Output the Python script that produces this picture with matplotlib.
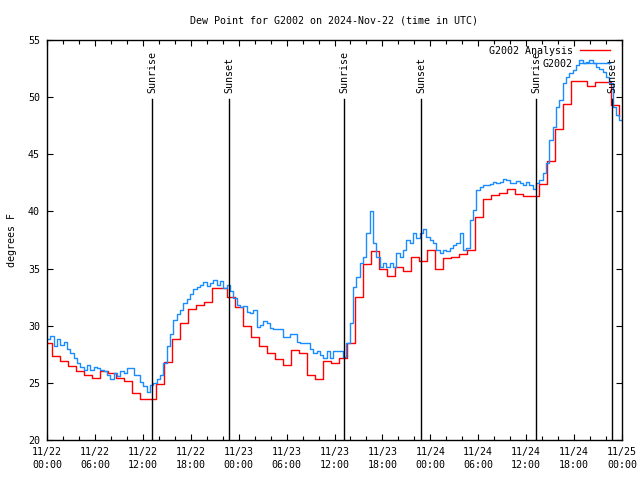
import pandas as pd
import matplotlib
matplotlib.use("Agg")
from matplotlib import pyplot as plt
import matplotlib.dates as mdates

# hourly analysis values (steps change about 36 min past the hour)
analysis_start = "2024-11-21 23:36"
analysis = [28.5, 27.35, 26.95, 26.5, 26.0, 25.7, 25.4, 26.0, 25.85, 25.45,
            25.15, 24.1, 23.6, 23.6, 24.9, 26.8, 28.8, 30.2, 31.5, 31.85,
            32.1, 33.3, 33.3, 32.5, 31.6, 29.95, 29.0, 28.25, 27.6, 27.1,
            26.6, 27.85, 27.65, 25.7, 25.35, 26.9, 26.7, 27.15, 28.45, 32.55,
            35.4, 36.5, 34.95, 34.35, 35.15, 34.75, 36.0, 35.65, 36.6, 34.95,
            35.9, 36.05, 36.25, 36.65, 39.55, 41.05, 41.45, 41.6, 42.0, 41.5,
            41.35, 41.35, 42.4, 44.4, 47.2, 49.4, 51.4, 51.4, 51.0, 51.3,
            51.3, 49.3, 48.35]

# station observations, roughly every 25 minutes
obs_start = "2024-11-22 00:00"
obs = [28.8, 29.1, 28.2, 28.8, 28.3, 28.6, 28.0, 27.6, 27.2, 26.7,
       26.4, 26.1, 26.6, 26.1, 26.4, 26.3, 26.1, 26.0, 25.7, 25.3,
       25.9, 25.6, 26.0, 25.9, 26.3, 26.3, 25.7, 25.7, 25.1, 24.7,
       24.2, 24.8, 25.0, 25.3, 25.7, 26.7, 28.2, 29.3, 30.5, 31.0,
       31.4, 32.0, 32.3, 32.8, 33.2, 33.4, 33.6, 33.8, 33.5, 33.7,
       34.0, 33.6, 33.9, 33.3, 33.6, 33.0, 32.4, 31.8, 31.6, 31.7,
       31.2, 31.1, 31.4, 29.9, 30.1, 30.4, 30.2, 29.8, 29.7, 29.7,
       29.7, 29.05, 29.05, 29.3, 29.3, 28.6, 28.5, 28.5, 28.5,
       28.0, 27.6, 27.75, 27.4, 27.15, 27.75, 27.2, 27.75, 27.75, 27.75,
       27.3, 28.5, 30.2, 33.4, 34.3, 35.45, 36.05, 38.1, 40.0, 37.2,
       36.05, 35.15, 35.45, 35.15, 35.45, 35.15, 36.35, 36.05, 36.65, 37.5,
       37.2, 38.1, 37.65, 38.1, 38.5, 37.8, 37.5, 37.2, 36.65, 36.35,
       36.65, 36.5, 36.8, 37.05, 37.2, 38.1, 36.65, 36.8, 39.25, 40.15,
       41.9, 42.15, 42.3, 42.3, 42.4, 42.6, 42.45, 42.6, 42.8, 42.75,
       42.45, 42.45, 42.7, 42.45, 42.3, 42.6, 42.3, 42.0, 42.5, 42.75,
       43.35, 44.2, 46.25, 47.4, 49.15, 49.75, 51.2, 51.8, 52.1, 52.4,
       52.8, 53.25, 52.95, 53.1, 53.25, 52.95, 52.65, 52.5, 52.2, 51.8,
       51.2, 49.15, 48.45, 48.0, 47.7]

sun_times = ["2024-11-22 13:11", "2024-11-22 22:49", "2024-11-23 13:13",
             "2024-11-23 22:51", "2024-11-24 13:14", "2024-11-24 22:45"]
sun_labels = ["Sunrise", "Sunset", "Sunrise", "Sunset", "Sunrise", "Sunset"]

plt.rcParams['font.family'] = ['DejaVu Sans Mono']
plt.rcParams['font.size'] = 7.2

t_an = pd.date_range(analysis_start, periods=len(analysis), freq="h")
t_obs = pd.date_range(obs_start, periods=len(obs), freq="25min")

fig = plt.figure(figsize=(6.4, 4.8), dpi=100)
ax = fig.add_axes([47 / 640, 40 / 480, 575 / 640, 400 / 480])

ax.plot(t_an, analysis, drawstyle="steps-post", color="#ff0000", lw=1.0,
        label="G2002 Analysis")
ax.plot(t_obs, obs, drawstyle="steps-post", color="#1a8cff", lw=1.0,
        label="G2002")

for st, lab in zip(sun_times, sun_labels):
    ts = pd.Timestamp(st)
    ax.plot([ts, ts], [20, 49.8], color="black", lw=1.0)
    ax.text(ts, 50.4, lab, rotation=90, ha="center", va="bottom")

ax.set_xlim(pd.Timestamp("2024-11-22 00:00"), pd.Timestamp("2024-11-25 00:00"))
ax.set_ylim(20, 55)
ax.set_yticks(range(20, 56, 5))
ax.xaxis.set_major_locator(mdates.HourLocator(byhour=[0, 6, 12, 18]))
ax.xaxis.set_major_formatter(mdates.DateFormatter("%m/%d\n%H:%M"))
ax.xaxis.set_minor_locator(mdates.HourLocator(interval=2))
ax.tick_params(which="both", direction="in", top=True, right=True, width=0.8)
ax.tick_params(which="major", length=4, pad=5)
ax.tick_params(which="minor", length=3)
for lbl in ax.get_xticklabels():
    lbl.set_linespacing(1.4)
for s in ax.spines.values():
    s.set_linewidth(1.0)

ax.set_ylabel("degrees F", labelpad=8)
ax.set_title("Dew Point for G2002 on 2024-Nov-22 (time in UTC)", fontsize=7.2, pad=12)

ax.legend(loc="upper right", bbox_to_anchor=(0.979, 0.985), frameon=False,
          markerfirst=False, borderpad=0, borderaxespad=0, handlelength=3.0,
          handletextpad=0.7, labelspacing=0.3)

fig.savefig("out.png", dpi=100)
